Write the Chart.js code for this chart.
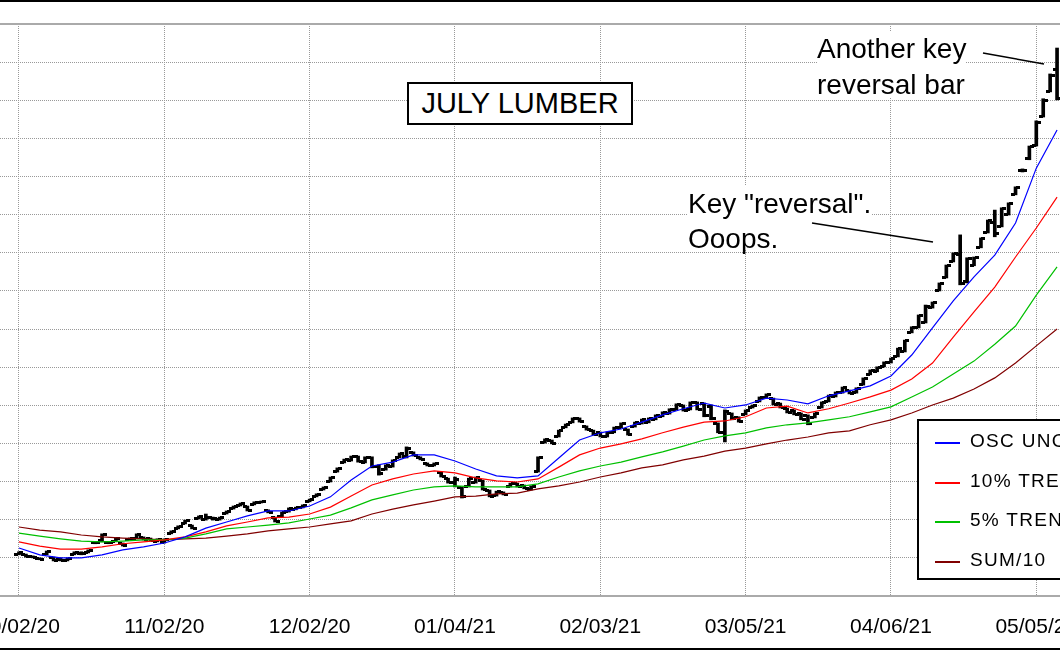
<!DOCTYPE html>
<html>
<head>
<meta charset="utf-8">
<script src="https://cdn.jsdelivr.net/npm/chart.js@4.4.1/dist/chart.umd.min.js"></script>
<style>
html,body{margin:0;padding:0;background:#fff;}
#wrap{position:relative;width:1060px;height:650px;overflow:hidden;background:#fff;font-family:'Liberation Sans',Arial,sans-serif;color:#000;}
#c{position:absolute;left:-50px;top:0;}
.frame{position:absolute;left:0;width:1060px;background:#000;}
#title{position:absolute;left:407px;top:82px;width:222px;height:39px;border:2px solid #000;text-align:center;font-size:29px;line-height:39px;background:#fff;white-space:nowrap;}
.note{position:absolute;font-size:28px;background:#fff;white-space:nowrap;overflow:visible;}
#legendBox{position:absolute;left:917px;top:419px;width:220px;height:157px;border:2px solid #000;background:#fff;}
.lgrow{position:absolute;left:935px;height:20px;line-height:20px;font-size:19px;letter-spacing:1.3px;white-space:nowrap;}
.lgline{position:absolute;left:0;top:11px;width:25px;height:2px;}
.lgtext{position:absolute;left:35px;top:0;}
#arrows{position:absolute;left:0;top:0;}
</style>
</head>
<body>
<div id="wrap">
  <canvas id="c" width="1200" height="650"></canvas>
  <div class="frame" style="top:0;height:2px;"></div>
  <div class="frame" style="top:648px;height:2px;"></div>
  <div id="title">JULY LUMBER</div>
  <div class="note" style="left:817px;top:31px;height:66px;line-height:36px;">Another key<br>reversal bar</div>
  <div class="note" style="left:688px;top:186px;height:64px;line-height:35px;">Key "reversal".<br>Ooops.</div>
  <svg id="arrows" width="1060" height="650">
    <line x1="983" y1="53" x2="1044" y2="64" stroke="#000" stroke-width="1.6"/>
    <line x1="812" y1="223" x2="933" y2="242" stroke="#000" stroke-width="1.6"/>
  </svg>
  <div id="legendBox"></div>
</div>
<script>
// ---- x axis tick positions (trading-day index) and labels ----
const tickBars = [0, 21, 42, 63, 84, 105, 126, 147];
const tickLabels = ['10/02/20','11/02/20','12/02/20','01/04/21','02/03/21','03/05/21','04/06/21','05/05/21'];

// ---- daily price bars (one per trading day, index 0 = 10/02/20) ----
const highs = [
416,410,405,400,418,402,400,400,416,416,
421,442,463,442,452,439,452,463,455,452,
450,450,471,484,499,486,510,515,507,507,
523,536,544,536,547,549,526,507,520,531,
533,539,554,568,586,612,636,659,667,667,
665,665,644,644,657,675,691,678,665,649,
649,625,609,612,586,609,612,604,578,575,
573,596,596,591,589,665,712,709,735,751,
767,767,746,735,730,730,743,754,738,756,
764,767,775,783,791,804,801,809,809,806,
801,754,788,780,770,788,801,822,830,819,
806,793,788,780,775,780,809,827,835,848,
840,846,872,893,901,914,924,950,971,1006,
1037,1063,1071,1121,1168,1200,1247,1187,1189,1239,
1286,1312,1318,1331,1373,1420,1480,1546,1604,1669,
1737];
const lows = [
408,402,400,395,408,392,392,392,408,408,
413,437,442,437,442,431,447,450,447,444,
442,439,463,476,489,476,502,499,499,499,
515,528,536,523,539,544,518,494,507,520,
526,531,547,560,578,599,625,649,654,651,
649,636,617,630,638,662,662,667,657,641,
641,612,596,586,557,586,596,578,560,562,
565,586,586,581,578,625,701,699,717,741,
754,756,735,722,717,717,728,741,722,743,
751,754,762,770,777,788,785,788,788,770,
762,728,704,762,756,775,793,809,819,801,
793,780,775,762,749,767,793,809,822,832,
830,832,853,880,888,901,911,927,940,990,
1003,1016,1055,1100,1134,1176,1116,1121,1166,1213,
1252,1242,1268,1299,1352,1412,1444,1480,1556,1622,
1601];
const opens = [
410,408,403,398,410,400,396,394,410,412,
415,439,445,440,444,437,449,452,453,450,
444,441,465,478,491,484,504,501,505,501,
517,530,538,534,541,545,524,505,509,522,
528,533,549,562,580,601,627,651,656,665,
651,663,640,632,640,664,665,676,663,647,
643,623,607,598,584,588,598,602,576,564,
571,588,594,589,580,627,703,707,719,743,
756,765,744,733,728,719,730,743,736,745,
753,756,764,772,779,790,799,790,807,804,
798,752,730,778,768,777,795,811,821,817,
804,791,786,778,773,769,795,811,824,834,
838,834,855,882,890,903,913,929,942,992,
1005,1018,1057,1102,1136,1178,1195,1125,1168,1215,
1254,1280,1270,1301,1354,1416,1446,1482,1558,1624,
1680];
const closes = [
414,404,402,397,416,394,394,398,414,412,
419,440,460,439,450,433,450,460,449,446,
448,448,469,482,497,478,508,506,503,505,
521,534,542,525,545,548,520,496,518,529,
531,537,552,566,584,610,634,657,665,653,
663,640,620,642,655,673,688,669,659,643,
647,614,598,605,560,607,610,580,562,573,
567,594,588,583,587,662,710,701,733,749,
765,758,737,724,719,728,741,752,724,754,
762,765,773,781,789,802,787,807,790,773,
765,730,785,765,758,786,799,820,828,803,
795,782,777,764,752,778,807,825,833,846,
832,844,870,891,899,912,922,948,969,1004,
1035,1060,1069,1119,1166,1198,1120,1184,1187,1237,
1284,1250,1315,1328,1371,1416,1478,1543,1600,1666,
1605];

// ---- indicator lines, read every 3rd trading day ----
const lineBars = [0,3,6,9,12,15,18,21,24,27,30,33,36,39,42,45,48,51,54,57,60,63,66,69,72,75,78,81,84,87,90,93,96,99,102,105,108,111,114,117,120,123,126,129,132,135,138,141,144,147,150];
const oscUnch = [426,408,400,400,408,421,429,439,455,478,494,510,523,523,536,560,604,641,651,670,670,654,633,615,610,615,662,709,728,738,756,775,791,806,793,801,819,814,804,825,838,851,877,932,1003,1074,1137,1194,1278,1422,1522];
const trend10 = [442,431,423,423,429,437,442,447,455,468,484,494,505,507,515,533,562,591,607,620,628,623,610,602,599,607,638,670,688,699,712,728,743,756,759,770,793,798,780,791,806,822,840,869,911,979,1045,1110,1189,1265,1346];
const trend5 = [465,457,450,444,442,444,447,447,452,463,476,481,486,492,502,512,531,552,565,578,586,589,586,586,586,594,612,628,641,651,665,678,693,709,720,728,741,749,754,762,770,783,796,822,848,882,916,960,1008,1089,1163];
const sum10 = [481,473,468,460,455,452,450,447,450,452,457,463,471,476,481,489,497,515,528,539,549,560,562,568,570,581,589,599,612,623,636,644,657,667,680,688,699,709,717,728,733,749,762,780,801,819,843,872,911,956,1000];

const seriesNames = ['OSC UNCH', '10% TREND', '5% TREND', 'SUM/10'];
const seriesColors = ['#0000ff', '#ff0000', '#00c000', '#800000'];
const seriesValues = [oscUnch, trend10, trend5, sum10];

// ---- tick marks for open (left) / close (right) ----
function tickImage(side) {
  const c = document.createElement('canvas');
  c.width = 9; c.height = 3;
  const g = c.getContext('2d');
  g.fillStyle = '#000';
  g.fillRect(side < 0 ? 0 : 5, 0, 4, 3);
  return c;
}
const openImg = tickImage(-1);
const closeImg = tickImage(1);

const lineSets = seriesValues.map((vals, s) => ({
  type: 'line',
  label: seriesNames[s],
  showInLegend: true,
  data: lineBars.map((b, k) => ({ x: b, y: vals[k] })),
  borderColor: seriesColors[s],
  backgroundColor: seriesColors[s],
  borderWidth: 1.2,
  pointRadius: 0,
  tension: 0,
  order: 0
}));

const edge = (ctx) => ctx.tick && (ctx.tick.value === 300 || ctx.tick.value === 1800);

Chart.defaults.font.family = "'Liberation Sans', Arial, sans-serif";

const crispTicks = {
  id: 'crispTicks',
  beforeDatasetsDraw(chart) { chart.ctx.imageSmoothingEnabled = false; }
};

const chart = new Chart(document.getElementById('c'), {
  type: 'line',
  plugins: [crispTicks],
  data: {
    datasets: [
      ...lineSets,
      {
        type: 'bar',
        label: 'range',
        data: highs.map((h, i) => ({ x: i, y: [lows[i], h] })),
        backgroundColor: '#000',
        borderWidth: 0,
        barThickness: 3,
        minBarLength: 2,
        order: 2
      },
      {
        type: 'line',
        label: 'open',
        data: opens.map((v, i) => ({ x: i, y: v })),
        showLine: false,
        pointStyle: openImg,
        pointRadius: 4,
        pointHoverRadius: 4,
        order: 1
      },
      {
        type: 'line',
        label: 'close',
        data: closes.map((v, i) => ({ x: i, y: v })),
        showLine: false,
        pointStyle: closeImg,
        pointRadius: 4,
        pointHoverRadius: 4,
        order: 1
      }
    ]
  },
  options: {
    responsive: false,
    animation: false,
    devicePixelRatio: 1,
    events: [],
    layout: { padding: { left: 50, right: 10, top: 24, bottom: 0 } },
    plugins: { legend: { display: false }, tooltip: { enabled: false } },
    scales: {
      x: {
        type: 'linear',
        bounds: 'data',
        offset: false,
        min: -2.7455,
        max: 161.985,
        afterBuildTicks: (scale) => { scale.ticks = tickBars.map(v => ({ value: v })); },
        afterFit: (scale) => { scale.height = 54; },
        ticks: {
          autoSkip: false,
          maxRotation: 0,
          padding: 18.4,
          color: '#000',
          font: { size: 21 },
          callback: (value) => tickLabels[tickBars.indexOf(value)]
        },
        grid: { offset: false, color: '#999999', lineWidth: 1, drawTicks: false },
        border: { display: false, dash: [1, 1] }
      },
      y: {
        type: 'linear',
        min: 300,
        max: 1800,
        ticks: { stepSize: 100, display: false },
        grid: {
          drawTicks: false,
          color: (ctx) => edge(ctx) ? '#aaaaaa' : '#999999',
          lineWidth: (ctx) => edge(ctx) ? 2 : 1
        },
        border: { display: false, dash: (ctx) => edge(ctx) ? [] : [1, 1] }
      }
    }
  }
});

// ---- legend built from the chart's own datasets ----
const wrap = document.getElementById('wrap');
chart.data.datasets.filter(d => d.showInLegend).forEach((d, k) => {
  const row = document.createElement('div');
  row.className = 'lgrow';
  row.style.top = (431 + 39.7 * k) + 'px';
  const ln = document.createElement('span');
  ln.className = 'lgline';
  ln.style.background = d.borderColor;
  const tx = document.createElement('span');
  tx.className = 'lgtext';
  tx.textContent = d.label;
  row.appendChild(ln);
  row.appendChild(tx);
  wrap.appendChild(row);
});
</script>
</body>
</html>
